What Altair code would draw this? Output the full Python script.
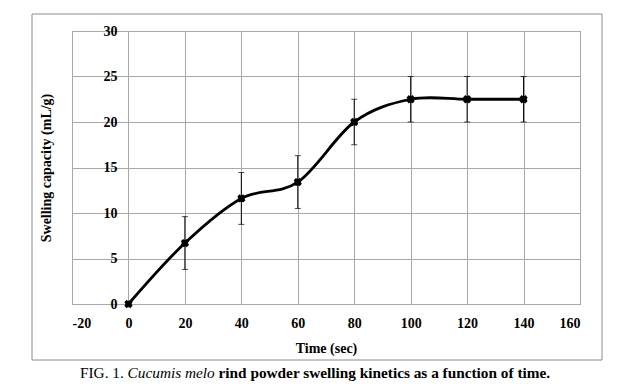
import altair as alt
import pandas as pd

# ---- data ----
time_sec = [0, 20, 40, 60, 80, 100, 120, 140]
swelling = [0.0, 6.7, 11.6, 13.4, 20.0, 22.5, 22.5, 22.5]
error = [0.0, 2.9, 2.85, 2.9, 2.5, 2.5, 2.5, 2.5]
x_ticks = [-20, 0, 20, 40, 60, 80, 100, 120, 140, 160]
y_ticks = [0, 5, 10, 15, 20, 25, 30]
caption_parts = ["FIG. 1.", "Cucumis melo", "rind powder swelling kinetics as a function of time."]

df = pd.DataFrame({"t": time_sec, "s": swelling, "e": error})
df["lo"] = df["s"] - df["e"]
df["hi"] = df["s"] + df["e"]
edf = df[df["e"] > 0].copy()
caps = pd.concat([edf.assign(v=edf["lo"]), edf.assign(v=edf["hi"])])

FONT = "Liberation Serif"
W, H = 508, 273
GRID = "#a8a8a8"
LBL = 14

xscale = alt.Scale(domain=[-20, 160], nice=False, zero=False)
yscale = alt.Scale(domain=[0, 30], nice=False)

x_enc = alt.X(
    "t:Q", scale=xscale,
    axis=alt.Axis(values=x_ticks, grid=True, gridColor=GRID, domain=False, ticks=False,
                  labelExpr="datum.value < 0 ? '-' + abs(datum.value) : datum.label",
                  labelPadding=12, labelFont=FONT, labelFontWeight="bold", labelFontSize=LBL,
                  labelColor="black", title="Time (sec)", titleFont=FONT, titleFontSize=14,
                  titleFontWeight="bold", titleColor="black", titleY=44, titleBaseline="middle"))
y_enc = alt.Y(
    "s:Q", scale=yscale,
    axis=alt.Axis(values=y_ticks, grid=True, gridColor=GRID, domain=False, ticks=False, offset=-56,
                  labelPadding=11, labelFont=FONT, labelFontWeight="bold", labelFontSize=LBL,
                  labelColor="black", title="Swelling capacity (mL/g)", titleFont=FONT,
                  titleFontSize=14, titleFontWeight="bold", titleColor="black",
                  titleX=-82, titleY=136.5, titleAngle=270, titleAlign="center",
                  titleBaseline="middle"))

base = alt.Chart(df)

line = base.mark_line(color="black", strokeWidth=2.8, interpolate="cardinal").encode(x=x_enc, y=y_enc)
points = base.mark_point(filled=True, color="black", size=45, shape="circle", opacity=1).encode(
    x="t:Q", y="s:Q")
stars = base.mark_point(color="black", size=70, shape="cross", filled=True, opacity=1, angle=45).encode(
    x="t:Q", y="s:Q")

bars = alt.Chart(edf).mark_rule(color="black", strokeWidth=1).encode(
    x="t:Q", y="lo:Q", y2="hi:Q")
cap_marks = alt.Chart(caps).mark_tick(color="black", orient="horizontal", size=6, thickness=1).encode(
    x="t:Q", y="v:Q")

frame_df = pd.DataFrame({"k": [0]})
frame = alt.Chart(frame_df).mark_rect(fill=None, stroke="#8c8c8c", strokeWidth=1, clip=False).encode(
    x=alt.value(-40), x2=alt.value(530), y=alt.value(-17), y2=alt.value(329))

CAP_Y = 347
CAP_FS = 15.3
cap_df = pd.DataFrame({"k": [0]})
cap1 = alt.Chart(cap_df).mark_text(text=caption_parts[0], font=FONT, fontSize=CAP_FS, align="left",
                                   baseline="alphabetic", color="black", clip=False).encode(
    x=alt.value(8), y=alt.value(CAP_Y))
cap2 = alt.Chart(cap_df).mark_text(text=caption_parts[1], font=FONT, fontSize=CAP_FS, fontStyle="italic",
                                   align="left", baseline="alphabetic", color="black", clip=False).encode(
    x=alt.value(55.6), y=alt.value(CAP_Y))
cap3 = alt.Chart(cap_df).mark_text(text=caption_parts[2], font=FONT, fontSize=CAP_FS, fontWeight="bold",
                                   align="left", baseline="alphabetic", color="black", clip=False).encode(
    x=alt.value(146.5), y=alt.value(CAP_Y))

chart = alt.layer(frame, line, bars, cap_marks, points, stars, cap1, cap2, cap3).properties(
    width=W, height=H,
    autosize=alt.AutoSizeParams(type="none"),
    padding={"left": 64, "top": 23, "right": 32, "bottom": 80},
    background="white",
).configure_view(stroke="#8c8c8c", strokeWidth=1)

chart.save("out.html", embed_options={"renderer": "svg", "actions": False})
